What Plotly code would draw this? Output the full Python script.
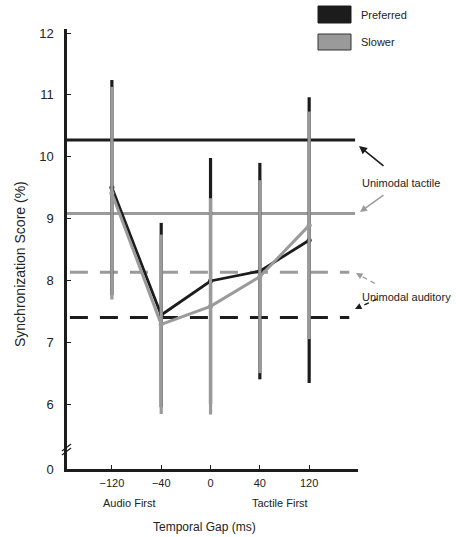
import plotly.graph_objects as go

# ---------------- data ----------------
gap_labels = ["\u2212120", "\u221240", "0", "40", "120"]

preferred_mean = [9.50, 7.44, 7.99, 8.15, 8.65]
preferred_err = [1.74, 1.49, 1.99, 1.75, 2.31]

slower_mean = [9.41, 7.29, 7.58, 8.06, 8.89]
slower_err = [1.72, 1.45, 1.75, 1.56, 1.84]

unimodal_tactile = {"Preferred": 10.27, "Slower": 9.08}
unimodal_auditory = {"Preferred": 7.40, "Slower": 8.13}

y_tick_labels = ["0", "6", "7", "8", "9", "10", "11", "12"]
y_tick_values = [6, 7, 8, 9, 10, 11, 12]

# ---------------- style / layout constants ----------------
W, H = 456, 537
L, R, T, B = 67, 358, 29, 469
ZERO_POS = 4.95  # axis position standing for 0 (broken axis)
BLACK = "#1c1c1c"
GRAY = "#9a9a9a"
FONT = "Liberation Sans, Arial, Helvetica, sans-serif"


def px(x):
    return (x - L) / (R - L)


def py(y):
    return (B - y) / (B - T)


fig = go.Figure()

fig.add_trace(go.Scatter(
    x=gap_labels, y=preferred_mean, name="Preferred", mode="lines+markers",
    line=dict(color=BLACK, width=2.8),
    marker=dict(color=BLACK, size=5),
    error_y=dict(type="data", array=preferred_err, color=BLACK, thickness=3.2, width=0),
))
fig.add_trace(go.Scatter(
    x=gap_labels, y=slower_mean, name="Slower", mode="lines+markers",
    line=dict(color=GRAY, width=3),
    marker=dict(color=GRAY, size=5),
    error_y=dict(type="data", array=slower_err, color=GRAY, thickness=3.2, width=0),
))

shapes = []
# unimodal reference lines
shapes.append(dict(type="line", xref="x domain", yref="y", x0=0, x1=0.99,
                   y0=unimodal_tactile["Preferred"], y1=unimodal_tactile["Preferred"],
                   line=dict(color=BLACK, width=3), layer="below"))
shapes.append(dict(type="line", xref="x domain", yref="y", x0=0, x1=0.99,
                   y0=unimodal_tactile["Slower"], y1=unimodal_tactile["Slower"],
                   line=dict(color=GRAY, width=3), layer="below"))
shapes.append(dict(type="line", xref="x domain", yref="y", x0=0.01, x1=0.97,
                   y0=unimodal_auditory["Slower"], y1=unimodal_auditory["Slower"],
                   line=dict(color=GRAY, width=3, dash="18px,12px"), layer="below"))
shapes.append(dict(type="line", xref="x domain", yref="y", x0=0.01, x1=0.97,
                   y0=unimodal_auditory["Preferred"], y1=unimodal_auditory["Preferred"],
                   line=dict(color=BLACK, width=3, dash="18px,12px"), layer="below"))

# axis break marks
for dy in (0, 4):
    shapes.append(dict(type="line", xref="paper", yref="paper",
                       x0=px(62), y0=py(455 - dy), x1=px(71), y1=py(448 - dy),
                       line=dict(color=BLACK, width=1.2)))

# legend boxes
shapes.append(dict(type="rect", xref="paper", yref="paper",
                   x0=px(318), x1=px(351), y0=py(23), y1=py(6),
                   fillcolor=BLACK, line=dict(color=BLACK, width=1)))
shapes.append(dict(type="rect", xref="paper", yref="paper",
                   x0=px(318), x1=px(351), y0=py(50), y1=py(34),
                   fillcolor=GRAY, line=dict(color="#333333", width=1)))

# dashed arrow shafts
shapes.append(dict(type="line", xref="paper", yref="paper",
                   x0=px(375), y0=py(283.5), x1=px(362), y1=py(276.5),
                   line=dict(color=GRAY, width=1.3, dash="5px,4px")))
shapes.append(dict(type="line", xref="paper", yref="paper",
                   x0=px(377), y0=py(299), x1=px(362), y1=py(306),
                   line=dict(color=BLACK, width=1.3, dash="5px,4px")))

annotations = []
txt = dict(family=FONT, size=11, color="#222222")
annotations.append(dict(x=px(359), y=py(15), xref="paper", yref="paper", text="Preferred",
                        showarrow=False, xanchor="left", yanchor="middle", font=txt))
annotations.append(dict(x=px(359), y=py(42), xref="paper", yref="paper", text="Slower",
                        showarrow=False, xanchor="left", yanchor="middle", font=txt))
annotations.append(dict(x=px(360), y=py(183), xref="paper", yref="paper", text="Unimodal tactile",
                        showarrow=False, xanchor="left", yanchor="middle", font=txt))
annotations.append(dict(x=px(360), y=py(297), xref="paper", yref="paper", text="Unimodal auditory",
                        showarrow=False, xanchor="left", yanchor="middle", font=txt))
annotations.append(dict(x=px(129), y=py(503), xref="paper", yref="paper", text="Audio First",
                        showarrow=False, xanchor="center", yanchor="middle", font=txt))
annotations.append(dict(x=px(280), y=py(503), xref="paper", yref="paper", text="Tactile First",
                        showarrow=False, xanchor="center", yanchor="middle", font=txt))
annotations.append(dict(x=px(204), y=py(527), xref="paper", yref="paper", text="Temporal Gap (ms)",
                        showarrow=False, xanchor="center", yanchor="middle",
                        font=dict(family=FONT, size=12, color="#222222")))
annotations.append(dict(x=px(20), y=py(264), xref="paper", yref="paper",
                        text="Synchronization Score (%)", textangle=-90,
                        showarrow=False, xanchor="center", yanchor="middle",
                        font=dict(family=FONT, size=14, color="#222222")))

# arrows
annotations.append(dict(x=px(359), y=py(146), xref="paper", yref="paper", text="",
                        showarrow=True, ax=26, ay=21, arrowhead=2, arrowsize=1,
                        arrowwidth=1.6, arrowcolor=BLACK))
annotations.append(dict(x=px(360), y=py(212), xref="paper", yref="paper", text="",
                        showarrow=True, ax=25, ay=-18, arrowhead=2, arrowsize=1,
                        arrowwidth=1.4, arrowcolor=GRAY))
annotations.append(dict(x=px(356), y=py(273), xref="paper", yref="paper", text="",
                        showarrow=True, ax=7, ay=4, arrowhead=2, arrowsize=1,
                        arrowwidth=1.3, arrowcolor=GRAY))
annotations.append(dict(x=px(355), y=py(309), xref="paper", yref="paper", text="",
                        showarrow=True, ax=7, ay=-3.5, arrowhead=2, arrowsize=1,
                        arrowwidth=1.3, arrowcolor=BLACK))

fig.update_layout(
    width=W, height=H,
    margin=dict(l=L, r=W - R, t=T, b=H - B),
    paper_bgcolor="white", plot_bgcolor="white",
    showlegend=False,
    font=dict(family=FONT, color="#222222"),
    shapes=shapes, annotations=annotations,
    xaxis=dict(
        type="category", range=[-0.91, 4.99],
        showgrid=False, zeroline=False,
        showline=True, linecolor=BLACK, linewidth=2.5,
        ticks="inside", ticklen=4, tickcolor=BLACK, tickwidth=1,
        tickfont=dict(family=FONT, size=11, color="#222222"),
        ticklabelstandoff=2,
    ),
    yaxis=dict(
        range=[ZERO_POS, 12.065],
        tickvals=[ZERO_POS] + y_tick_values, ticktext=y_tick_labels,
        showgrid=False, zeroline=False,
        showline=True, linecolor=BLACK, linewidth=2.5,
        ticks="inside", ticklen=4, tickcolor=BLACK, tickwidth=1,
        tickfont=dict(family=FONT, size=13, color="#222222"),
        ticklabelstandoff=8,
    ),
)

fig.write_html(
    "out.html",
    config={"displayModeBar": False},
    post_script="document.body.style.margin='0px';document.body.style.overflow='hidden';",
)
